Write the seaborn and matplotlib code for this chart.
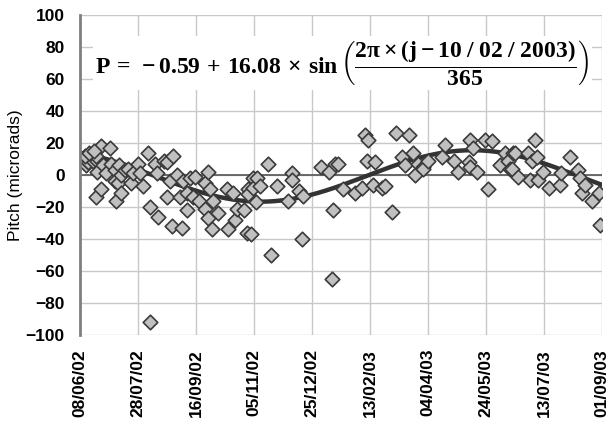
import numpy as np
import pandas as pd
import matplotlib
matplotlib.use("Agg")
import matplotlib.pyplot as plt
import matplotlib.dates as mdates
import seaborn as sns

# ---- data ----
start_date = "2002-06-08"
day_offset = [
    3, 5, 6, 7, 9, 11, 14, 15, 15, 18, 18, 20, 22, 26, 27, 30, 30, 31, 33, 34, 35, 35, 39, 41,
    44, 46, 14, 4, 8, 12,
    50, 52, 54, 59, 60, 65, 66, 67, 72,
    60,
    75, 75, 78, 79, 80, 84, 86, 88, 89, 92, 92, 95, 97, 99, 103, 108, 108, 110, 110, 112, 114,
    115, 119, 127, 128, 132, 134, 135, 141, 144, 145, 145, 149,
    147, 149, 152, 153, 155, 162, 165, 170, 179, 183, 183, 189, 191, 192, 208, 215, 217, 218, 220,
    222, 227, 237, 243, 246, 247, 248, 253, 254, 260, 263, 269, 272, 278, 280, 284, 287, 289, 291, 296,
    296, 300, 312, 315, 322, 326, 335, 336, 336, 339, 342, 349, 352, 355, 362, 366, 369, 371, 373,
    372, 375, 378, 386, 388, 390, 392, 394, 395, 399, 404, 414, 415, 422, 429, 431, 433, 435, 441,
    447, 448,
]
pitch = [
    10, 6, 9, 8, 11, 9, -14, 9, 2, 18, -9, 6, 1, 17, 7, 3, -4, -16, -5, 6, -11, 0, 3, 4,
    -5, 1, 12, 12, 14, 15,
    7, 1, -7, 14, -20, 7, 1, -26, 9,
    -92,
    8, -14, -4, -32, 12, 0, -14, -33, -4, -11, -22, -2, -14, -1, -16, -5, -21, 2, -27, -9, -34,
    -16, -24, -9, -34, -11, -28, -21, -22, -36, -9, -12, -2,
    -37, -8, -17, -2, -7, 7, -50, -7, -16, 1, -3, -10, -40, -13, 5, 2, -65, -22, 7,
    7, -9, -11, -8, 25, 9, 22, -6, 8, -8, -7, -23, 26, 11, 6, 25, 14, 0, 7, 5,
    4, 9, 11, 19, 9, 2, 8, 22, 5, 17, 2, 22, -9, 21, 6, 14, 9, 4, 14,
    4, 14, -1, 14, -3, 9, 22, 11, -3, 2, -8, -6, 1, 11, 3, -2, -11, -6, -16,
    -11, -31,
]
# fitted model shown on the chart
fit_offset = -0.59
fit_amplitude = 16.08
fit_phase_date = "2003-02-10"
fit_period = 365

tick_dates = ["2002-06-08", "2002-07-28", "2002-09-16", "2002-11-05", "2002-12-25",
              "2003-02-13", "2003-04-04", "2003-05-24", "2003-07-13", "2003-09-01"]
y_ticks = [-100, -80, -60, -40, -20, 0, 20, 40, 60, 80, 100]

# ---- build frames ----
dates = pd.Timestamp(start_date) + pd.to_timedelta(day_offset, unit="D")
df = pd.DataFrame({"date": dates, "pitch": pitch})

curve_dates = pd.date_range(start_date, tick_dates[-1], freq="D")
phase = (curve_dates - pd.Timestamp(fit_phase_date)).days.values
curve = pd.DataFrame({"date": curve_dates,
                      "fit": fit_offset + fit_amplitude * np.sin(2 * np.pi * phase / fit_period)})

# ---- style ----
sns.set_theme(style="white")
plt.rcParams["font.family"] = ["Liberation Sans", "DejaVu Sans"]
plt.rcParams["mathtext.fontset"] = "custom"
plt.rcParams["mathtext.rm"] = "Liberation Serif:bold"
plt.rcParams["mathtext.it"] = "Liberation Serif:bold"
plt.rcParams["mathtext.bf"] = "Liberation Serif:bold"

fig = plt.figure(figsize=(6.11, 4.30), dpi=100)
ax = fig.add_axes([80 / 611, 1 - 335 / 430, 522 / 611, 320 / 430])

sns.lineplot(data=curve, x="date", y="fit", ax=ax, color="#333333", lw=3.2, zorder=3)
sns.scatterplot(data=df, x="date", y="pitch", ax=ax, marker="D", s=55,
                color="#c0c0c0", edgecolor="#3a3a3a", linewidth=1.2, zorder=4)

ax.set_xlim(pd.Timestamp(tick_dates[0]), pd.Timestamp(tick_dates[-1]))
ax.set_ylim(-100, 100)
ax.set_xticks([pd.Timestamp(d) for d in tick_dates])
ax.xaxis.set_major_formatter(mdates.DateFormatter("%d/%m/%y"))
ax.set_yticks(y_ticks)

ax.grid(True, color="#c8c8c8", lw=1.0, zorder=0)
ax.set_axisbelow(True)
ax.axhline(0, color="#555555", lw=1.2, zorder=2)

for s in ["top", "right", "bottom"]:
    ax.spines[s].set_visible(False)
ax.spines["left"].set_color("#808080")
ax.spines["left"].set_linewidth(2)
ax.spines["left"].set_zorder(5)

ax.tick_params(axis="both", length=0)
ax.tick_params(axis="y", pad=11, labelsize=12.5)
ax.tick_params(axis="x", pad=10, labelsize=12.5, rotation=90)
for lab in ax.get_xticklabels() + ax.get_yticklabels():
    lab.set_fontweight("bold")
    lab.set_color("black")

ax.set_xlabel("")
ax.set_ylabel("Pitch (microrads)", fontsize=12.5, labelpad=2, color="black")

eq = (r"$\mathbf{P\,=\,-0.59\,+\,16.08\,\times\,\sin"
      r"\left(\dfrac{2\pi\times\left(j-10\;/\;02\;/\;2003\right)}{365}\right)}$")
ax.text(0.503, 0.85, eq, transform=ax.transAxes, ha="center", va="center",
        fontsize=17, color="black", zorder=6,
        bbox=dict(boxstyle="square,pad=0.1", facecolor="white", edgecolor="none"))

fig.savefig("out.png", dpi=100)
